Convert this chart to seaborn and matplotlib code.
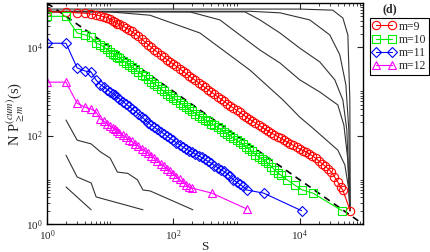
import matplotlib
matplotlib.use('Agg')
import matplotlib.pyplot as plt
import seaborn as sns
from matplotlib.ticker import FixedLocator, LogFormatterSciNotation, NullFormatter

sns.set_style('ticks')
plt.rcParams['font.family'] = ['Liberation Serif', 'DejaVu Serif']
plt.rcParams['mathtext.fontset'] = 'stix'

# reference slope -1 line
ref_s = [1, 1e5]
ref_y = [1e5, 1]

# m = 9 .. 12 (marked series)
s9 = [1, 2, 3, 4, 5, 6, 7, 8, 9, 10, 11, 12, 13, 14, 16, 18, 20, 22, 25, 28, 32, 35, 40, 45, 50,
      56, 63, 71, 79, 89, 100, 112, 126, 141, 158, 178, 200, 224, 251, 282, 316, 355, 398, 447,
      501, 562, 631, 708, 794, 891, 1000, 1122, 1259, 1413, 1585, 1778, 1995, 2239, 2512, 2818,
      3162, 3548, 3981, 4467, 5012, 5623, 6310, 7079, 7943, 8913, 10000, 11220, 12589, 14125,
      15849, 17783, 19953, 22387, 25119, 28184, 31623, 35481, 39811, 44668, 48000, 63000]
y9 = [63000, 63000, 60000, 59000, 56000, 54000, 51000, 49000, 47000, 43000, 39000, 36300, 34400,
      32700, 29900, 27200, 25100, 22800, 20000, 17500, 15000, 13400, 11400, 9930, 8730, 7710,
      6780, 6010, 5270, 4690, 4170, 3680, 3240, 2890, 2550, 2240, 1990, 1780, 1570, 1380, 1230,
      1100, 977, 861, 759, 676, 603, 531, 473, 422, 376, 335, 299, 266, 240, 214, 193, 174, 155,
      140, 126, 115, 105, 95, 87, 79, 72, 66, 60, 55, 50, 46, 43, 39, 35, 31, 27, 23.4, 20.4,
      17.8, 15.1, 11.7, 9.1, 6.8, 5.9, 2.0]

s10 = [1, 2, 3, 4, 5, 6, 7, 8, 9, 10, 11, 12, 13, 14, 16, 18, 20, 22, 25, 28, 32, 35, 40, 45, 50,
       56, 63, 71, 79, 89, 100, 112, 126, 141, 158, 178, 200, 224, 251, 282, 316, 355, 398, 447,
       501, 562, 631, 708, 794, 891, 1000, 1122, 1259, 1413, 1585, 1778, 1995, 2239, 2512, 2818,
       3162, 3548, 3981, 4467, 5012, 6310, 8318, 11000, 16200, 46800]
y10 = [50000, 50000, 21000, 19000, 17000, 12300, 11400, 10000, 8900, 7900, 7200, 6600, 6100, 5700,
       5000, 4400, 4000, 3600, 3150, 2800, 2400, 2200, 1900, 1660, 1480, 1320, 1150, 1000, 890,
       790, 710, 630, 560, 500, 450, 400, 355, 316, 285, 257, 229, 209, 188, 170, 153, 138, 123,
       111, 100, 89, 79, 71, 63, 56, 50, 44, 37, 33, 30, 27, 24, 20, 17, 14.5, 12.9, 10, 7.6,
       5.9, 5.0, 2.0]

s11 = [1, 2, 3, 4, 5, 6, 7, 8, 9, 10, 11, 12, 13, 14, 16, 18, 20, 22, 25, 28, 32, 35, 40, 45, 50,
       56, 63, 71, 79, 89, 100, 112, 126, 141, 158, 178, 200, 224, 251, 282, 316, 355, 398, 447,
       501, 562, 631, 708, 794, 891, 1000, 1122, 1259, 1445, 2692, 10700]
y11 = [12300, 12300, 3400, 2900, 2750, 1800, 1430, 1250, 1100, 980, 890, 810, 740, 680, 590, 510,
       457, 407, 355, 310, 263, 234, 195, 172, 155, 138, 123, 110, 98, 87, 78, 69, 62, 56, 50, 46,
       42, 38, 35, 32, 29, 26, 24, 21, 19, 17, 15.5, 13.8, 12, 10, 8.9, 7.9, 7.1, 5.9, 5.0, 2.0]

s12 = [1, 2, 3, 4, 5, 6, 7, 8, 9, 10, 11, 12, 13, 14, 16, 18, 20, 22, 25, 28, 32, 35, 40, 45, 50,
       56, 63, 71, 79, 89, 100, 112, 126, 141, 158, 178, 200, 407, 1445]
y12 = [1620, 1620, 540, 440, 400, 340, 237, 209, 186, 166, 151, 138, 129, 117, 102, 91, 81, 74, 65,
       58, 50, 46, 40, 35, 31, 27, 23.4, 20.4, 17.8, 15.5, 13.5, 11.7, 10.2, 8.9, 7.8, 6.9, 6.5,
       5.0, 2.2]

# unmarked curves, small m (upper right)
sa = [1, 10000, 33300, 48200, 57800, 62100, 63200]
ya = [73000, 73000, 69000, 45800, 19000, 640, 2]
sb = [1, 1630, 4870, 14400, 29900, 43100, 53800, 59900, 62100]
yb = [65000, 65000, 60000, 41500, 19000, 6730, 1400, 134, 2]
sc = [1, 1360, 2340, 4870, 10000, 20800, 35900, 48200, 55700, 62100]
yc = [63000, 63000, 41500, 21000, 9560, 4640, 1830, 640, 134, 2]
sd = [1, 183, 545, 2340, 4870, 10000, 20800, 40100, 50000, 57800, 62100]
yd = [65000, 63000, 41500, 8650, 4400, 1830, 970, 495, 173, 28, 2]
se = [1, 9.9, 42.6, 263, 1630, 5440, 10000, 16100, 40100, 51800, 59900, 62100]
ye = [63000, 63000, 53000, 21000, 3040, 640, 263, 148, 47, 21.7, 5.9, 2]

# unmarked curves, large m (lower left)
s13 = [2, 3, 5, 7, 10, 13, 19, 27, 33, 43, 204]
y13 = [225, 79, 65, 43, 31, 15, 14, 10, 5.9, 5.6, 2.1]
s14 = [2, 3, 5, 6, 33]
y14 = [36, 11.6, 8.5, 4.1, 2.1]
s15 = [2, 5]
y15 = [6.9, 2.1]

fig = plt.figure(figsize=(4.31, 2.52), dpi=100)
ax = fig.add_axes([0.109, 0.111, 0.733, 0.877])

for sx, sy in [(sa, ya), (sb, yb), (sc, yc), (sd, yd), (se, ye), (s13, y13), (s14, y14), (s15, y15)]:
    sns.lineplot(x=sx, y=sy, ax=ax, color='#333333', lw=0.8, sort=False, estimator=None)

sns.lineplot(x=ref_s, y=ref_y, ax=ax, color='black', lw=1.2, linestyle=(0, (4, 3)),
             sort=False, estimator=None)

series = [
    (s9, y9, 'm=9', '#ff0000', 'o', 6.0),
    (s10, y10, 'm=10', '#00ee00', 's', 5.6),
    (s11, y11, 'm=11', '#0000ff', 'D', 5.0),
    (s12, y12, 'm=12', '#ff00ff', '^', 5.6),
]
handles = []
for sx, sy, lab, col, mk, ms in series:
    sns.lineplot(x=sx, y=sy, ax=ax, color=col, lw=0.8, marker=mk, markersize=ms,
                 markerfacecolor='none', markeredgecolor=col, markeredgewidth=0.8,
                 sort=False, estimator=None, label=lab, legend=False)
    handles.append(ax.lines[-1])

ax.set_xscale('log')
ax.set_yscale('log')
ax.set_xlim(1, 1e5)
ax.set_ylim(1, 1e5)

majors = [1, 1e2, 1e4]
minors = [k * 10 ** e for e in (0, 2, 4) for k in range(2, 11)]
for axis in (ax.xaxis, ax.yaxis):
    axis.set_major_locator(FixedLocator(majors))
    axis.set_minor_locator(FixedLocator(minors))
    axis.set_major_formatter(LogFormatterSciNotation())
    axis.set_minor_formatter(NullFormatter())
ax.tick_params(which='both', direction='in', top=True, right=True, labelsize=8, pad=3)
ax.tick_params(which='major', length=4.5, width=0.8)
ax.tick_params(which='minor', length=2.5, width=0.6)
for sp in ax.spines.values():
    sp.set_linewidth(1.0)
    sp.set_color('black')

ax.set_xlabel('S', fontsize=9.5, labelpad=-1.5)
ax.set_ylabel(r'N P$_{\geq m}^{(cum)}$(s)', fontsize=10.5, labelpad=-1)

leg = fig.legend(handles=handles, labels=[h.get_label() for h in handles], loc='upper left',
                 bbox_to_anchor=(0.858, 0.93), fontsize=8.5, frameon=True, fancybox=False,
                 edgecolor='black', framealpha=1, numpoints=2, handlelength=1.9,
                 handletextpad=0.3, labelspacing=0.1, borderpad=0.25, borderaxespad=0)
leg.get_frame().set_linewidth(0.8)

fig.text(0.905, 0.985, '(d)', fontsize=8.5, fontweight='bold', ha='center', va='top')

fig.savefig('out.png', dpi=100)
